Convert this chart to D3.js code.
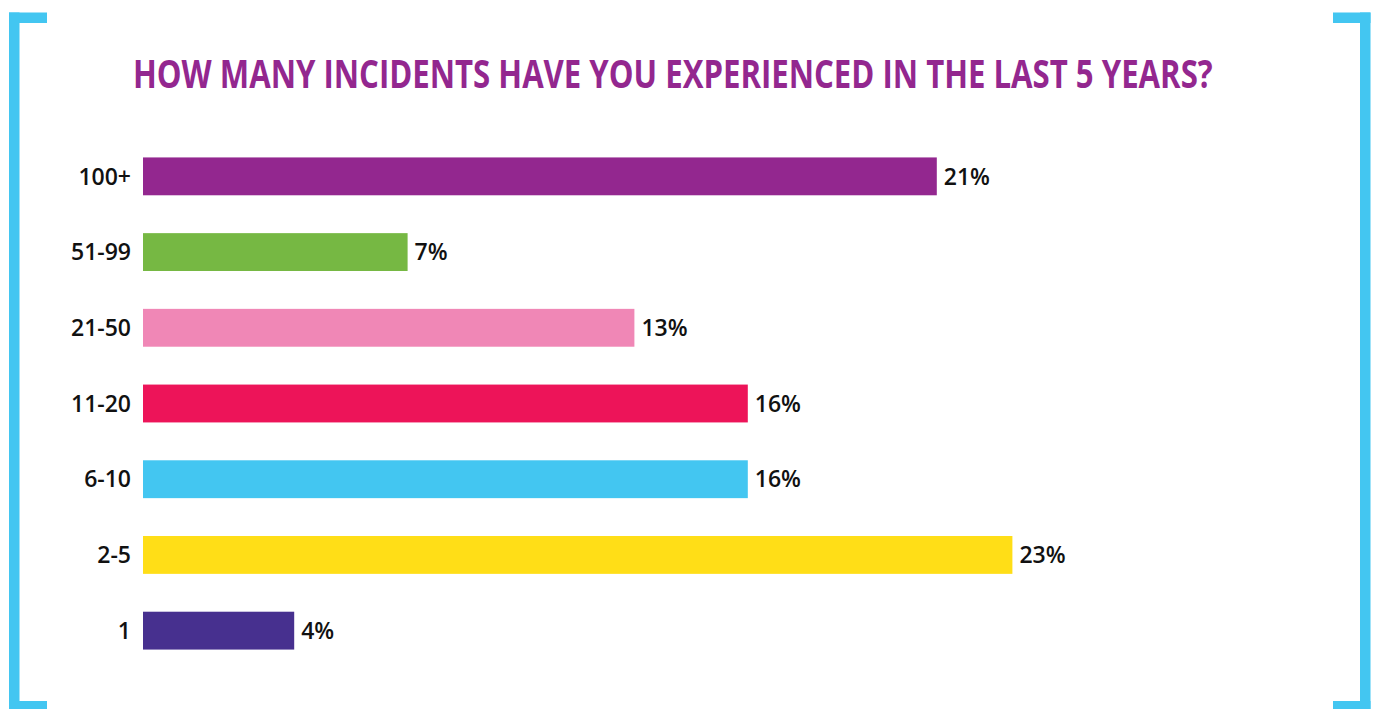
<!DOCTYPE html>
<html>
<head>
<meta charset="utf-8">
<script src="https://cdn.jsdelivr.net/npm/d3@7"></script>
<style>
  body { margin: 0; background: #fff; }
  text { font-family: "Open Sans", "Noto Sans", sans-serif; }
</style>
</head>
<body>
<script>
// chart data
var categories = ["100+", "51-99", "21-50", "11-20", "6-10", "2-5", "1"];
var values = [21, 7, 13, 16, 16, 23, 4];
var barColors = ["#93278f", "#76b843", "#f087b6", "#ed1459", "#43c6f1", "#ffde17", "#47308f"];
var title = "HOW MANY INCIDENTS HAVE YOU EXPERIENCED IN THE LAST 5 YEARS?";

var width = 1378;
var height = 709;

var svg = d3.select("body")
  .append("svg")
  .attr("width", width)
  .attr("height", height);

// blue corner brackets
var bracket = "#43c6f1";
var bw = 10.5;
// left
svg.append("rect").attr("x", 9).attr("y", 12.5).attr("width", bw).attr("height", 697).attr("fill", bracket);
svg.append("rect").attr("x", 9).attr("y", 12.5).attr("width", 38).attr("height", bw).attr("fill", bracket);
svg.append("rect").attr("x", 9).attr("y", 701).attr("width", 38).attr("height", 10).attr("fill", bracket);
// right
svg.append("rect").attr("x", 1360).attr("y", 12.5).attr("width", bw).attr("height", 697).attr("fill", bracket);
svg.append("rect").attr("x", 1333).attr("y", 12.5).attr("width", 37.5).attr("height", bw).attr("fill", bracket);
svg.append("rect").attr("x", 1333).attr("y", 701).attr("width", 37.5).attr("height", 10).attr("fill", bracket);

// title - condensed look by squeezing horizontally
var titleText = svg.append("text")
  .attr("x", 0)
  .attr("y", 0)
  .style("font-size", "39px")
  .style("font-weight", "700")
  .style("fill", "#93278f")
  .text(title);
var tw = titleText.node().getComputedTextLength();
titleText.attr("transform", "translate(133,88) scale(" + (1080 / tw) + ",1)");

// scales
var x = d3.scaleLinear()
  .domain([0, 1])
  .range([143, 143 + 37.8]);

var y = d3.scaleBand()
  .domain(categories)
  .range([138.5, 668.5])
  .paddingInner(0.5)
  .paddingOuter(0.25);

var rows = svg.selectAll("g.row")
  .data(categories)
  .enter()
  .append("g")
  .attr("class", "row");

rows.append("rect")
  .attr("x", x(0))
  .attr("y", function(d) { return y(d); })
  .attr("width", function(d, i) { return x(values[i]) - x(0); })
  .attr("height", y.bandwidth())
  .attr("fill", function(d, i) { return barColors[i]; });

// category labels
rows.append("text")
  .attr("x", 131)
  .attr("y", function(d) { return y(d) + y.bandwidth() / 2; })
  .attr("dy", "0.36em")
  .attr("text-anchor", "end")
  .style("font-size", "23px")
  .style("font-weight", "600")
  .style("fill", "#111")
  .text(function(d) { return d; });

// value labels
rows.append("text")
  .attr("x", function(d, i) { return x(values[i]) + 7; })
  .attr("y", function(d) { return y(d) + y.bandwidth() / 2; })
  .attr("dy", "0.36em")
  .style("font-size", "23px")
  .style("font-weight", "600")
  .style("fill", "#111")
  .text(function(d, i) { return values[i] + "%"; });
</script>
</body>
</html>
